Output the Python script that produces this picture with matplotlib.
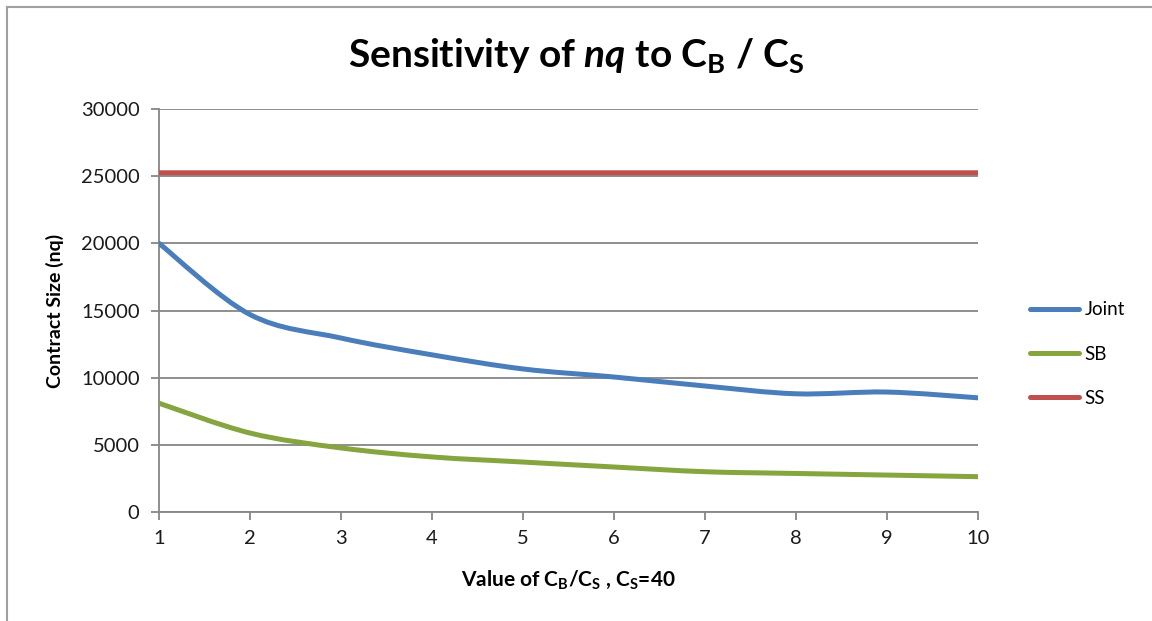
import matplotlib.pyplot as plt
from matplotlib.path import Path
from matplotlib.patches import PathPatch
from matplotlib.lines import Line2D

plt.rcParams['font.family'] = ['Lato', 'DejaVu Sans']
plt.rcParams['mathtext.fontset'] = 'custom'
plt.rcParams['mathtext.rm'] = 'Lato:bold'
plt.rcParams['mathtext.it'] = 'Lato:bold:italic'
plt.rcParams['mathtext.bf'] = 'Lato:bold'

ratio = [1, 2, 3, 4, 5, 6, 7, 8, 9, 10]
joint = [20000, 14700, 12950, 11700, 10650, 10050, 9380, 8800, 8930, 8500]
sb = [8100, 5880, 4770, 4100, 3720, 3350, 3000, 2870, 2750, 2630]
ss = [25250] * 10

names = ['Joint', 'SB', 'SS']
colors = ['#4A7EBB', '#86A53F', '#C0504D']
grey = '#868686'


def smooth_path(x, y):
    # Excel style smoothed line: Catmull-Rom segments as cubic beziers
    verts = [(x[0], y[0])]
    codes = [Path.MOVETO]
    n = len(x)
    for i in range(n - 1):
        x0, y0 = (x[i - 1], y[i - 1]) if i > 0 else (x[i], y[i])
        x3, y3 = (x[i + 2], y[i + 2]) if i + 2 < n else (x[i + 1], y[i + 1])
        c1 = (x[i] + (x[i + 1] - x0) / 6, y[i] + (y[i + 1] - y0) / 6)
        c2 = (x[i + 1] - (x3 - x[i]) / 6, y[i + 1] - (y3 - y[i]) / 6)
        verts += [c1, c2, (x[i + 1], y[i + 1])]
        codes += [Path.CURVE4] * 3
    return Path(verts, codes)


fig = plt.figure(figsize=(11.52, 6.21), dpi=100)
ax = fig.add_axes([0.138, 0.1755, 0.711, 0.649])

handles = []
for vals, name, c in zip([joint, sb, ss], names, colors):
    ax.add_patch(PathPatch(smooth_path(ratio, vals), fill=False, edgecolor=c,
                           lw=3.6, capstyle='round', joinstyle='round', zorder=3))
    handles.append(Line2D([], [], color=c, lw=3.6, solid_capstyle='round'))

ax.set_xlim(1, 10)
ax.set_ylim(0, 30000)
ax.set_xticks(ratio)
ax.set_yticks(range(0, 30001, 5000))
ax.grid(axis='y', color=grey, lw=1.3)
ax.set_axisbelow(True)
for s in ['top', 'right']:
    ax.spines[s].set_visible(False)
for s in ['left', 'bottom']:
    ax.spines[s].set_color(grey)
    ax.spines[s].set_linewidth(1.3)
ax.tick_params(axis='both', colors=grey, width=1.3, length=6, labelsize=14.5,
               labelcolor='#1a1a1a')
ax.tick_params(axis='y', pad=8)
ax.tick_params(axis='x', pad=7)

ax.set_ylabel('Contract Size (nq)', fontsize=14, fontweight='bold', labelpad=12)
ax.set_xlabel(r'Value of C$_\mathregular{B}$/C$_\mathregular{S}$ , C$_\mathregular{S}$=40',
              fontsize=15, fontweight='bold', labelpad=15)
fig.text(0.5, 0.91, r'Sensitivity of $\mathit{nq}$ to C$_\mathregular{B}$ / C$_\mathregular{S}$',
         ha='center', va='center', fontsize=28, fontweight='bold')

ax.legend(handles, names, loc='center left', bbox_to_anchor=(1.043, 0.392),
          frameon=False, fontsize=13.5, handlelength=2.6, handletextpad=0.3,
          labelspacing=1.45)

# outer chart border (top and left only visible)
fig.add_artist(Line2D([0.0065, 0.0065], [0, 0.9887], transform=fig.transFigure,
                      color='#a0a0a0', lw=1.5))
fig.add_artist(Line2D([0.0065, 1], [0.9887, 0.9887], transform=fig.transFigure,
                      color='#a0a0a0', lw=1.5))

fig.savefig('out.png', dpi=100)
